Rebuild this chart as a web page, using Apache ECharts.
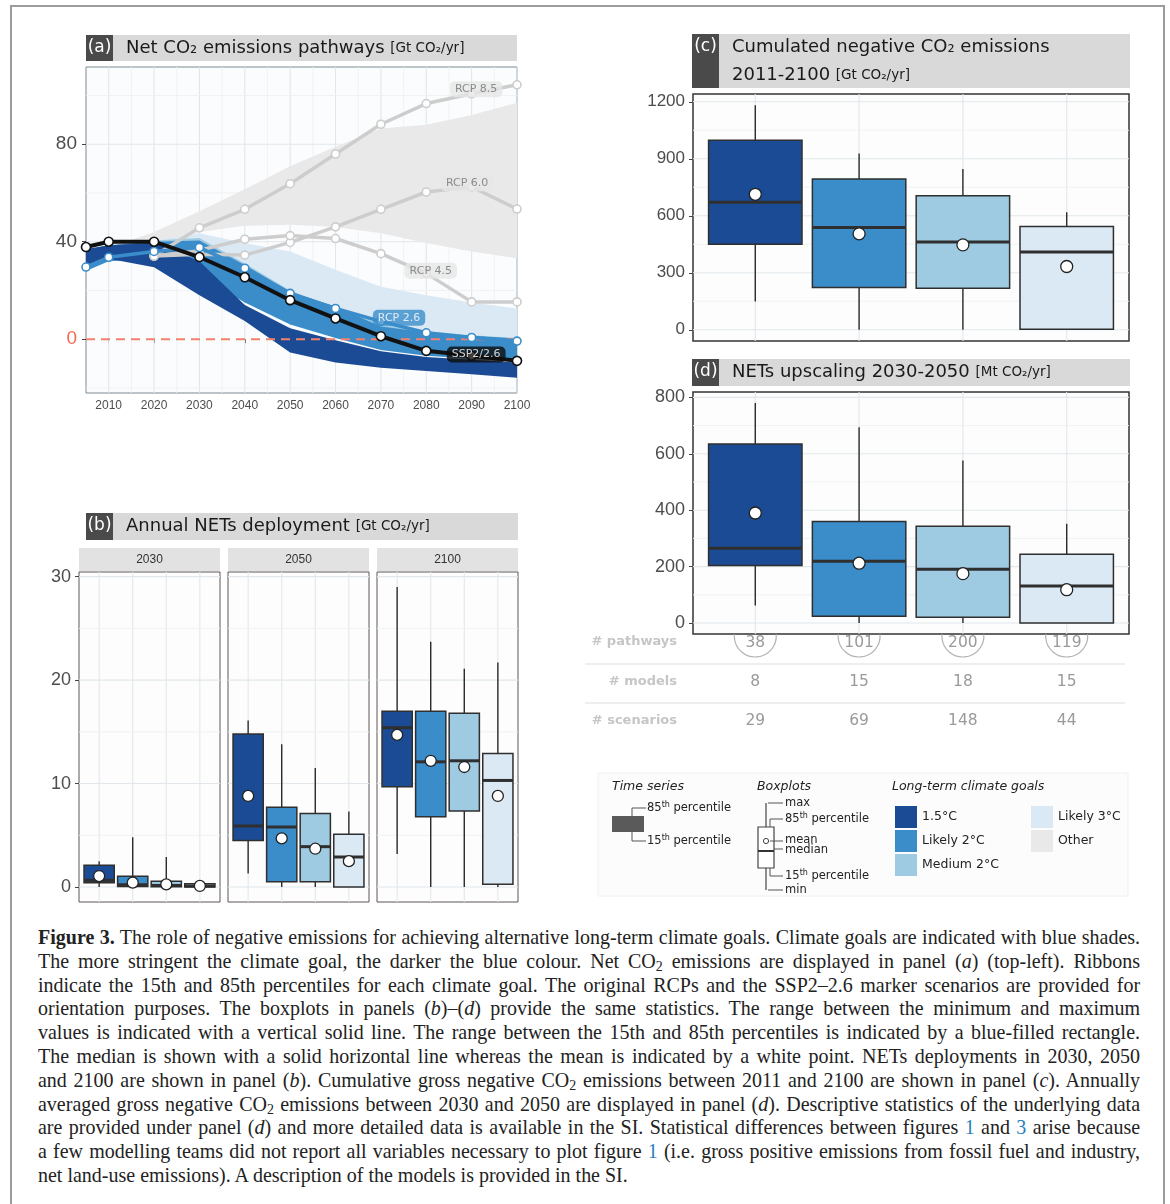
<!DOCTYPE html>
<html>
<head>
<meta charset="utf-8">
<script src="https://cdn.jsdelivr.net/npm/echarts@6.0.0/dist/echarts.min.js"></script>
<style>
  body { margin: 0; background: #fff; }
  #wrap { position: relative; width: 1170px; height: 1204px; overflow: hidden; }
  #frame { position: absolute; left: 10px; top: 5px; width: 1151px; height: 1300px; border: 2px solid #9c9c9c; }
  #chart { position: absolute; left: 0; top: 0; width: 1170px; height: 915px; }
  #caption { position: absolute; left: 38px; top: 926px; font-family: 'Liberation Serif', serif;
             font-size: 21.5px; color: #222; line-height: 23.8px; }
  #caption div { width: 1185px; height: 23.8px; transform: scaleX(0.93); transform-origin: 0 0; text-align: justify; text-align-last: justify; }
  #caption div.last { text-align-last: left; }
  #caption sub { font-size: 15px; line-height: 0; vertical-align: -3px; }
  #caption a { color: #2a7fba; text-decoration: none; }
</style>
</head>
<body>
<div id="wrap">
  <div id="frame"></div>
  <div id="chart"></div>
  <div id="caption">
    <div><b>Figure 3.</b> The role of negative emissions for achieving alternative long-term climate goals. Climate goals are indicated with blue shades.</div>
    <div>The more stringent the climate goal, the darker the blue colour. Net CO<sub>2</sub> emissions are displayed in panel (<i>a</i>) (top-left). Ribbons</div>
    <div>indicate the 15th and 85th percentiles for each climate goal. The original RCPs and the SSP2–2.6 marker scenarios are provided for</div>
    <div>orientation purposes. The boxplots in panels (<i>b</i>)–(<i>d</i>) provide the same statistics. The range between the minimum and maximum</div>
    <div>values is indicated with a vertical solid line. The range between the 15th and 85th percentiles is indicated by a blue-filled rectangle.</div>
    <div>The median is shown with a solid horizontal line whereas the mean is indicated by a white point. NETs deployments in 2030, 2050</div>
    <div>and 2100 are shown in panel (<i>b</i>). Cumulative gross negative CO<sub>2</sub> emissions between 2011 and 2100 are shown in panel (<i>c</i>). Annually</div>
    <div>averaged gross negative CO<sub>2</sub> emissions between 2030 and 2050 are displayed in panel (<i>d</i>). Descriptive statistics of the underlying data</div>
    <div>are provided under panel (<i>d</i>) and more detailed data is available in the SI. Statistical differences between figures <a>1</a> and <a>3</a> arise because</div>
    <div>a few modelling teams did not report all variables necessary to plot figure <a>1</a> (i.e. gross positive emissions from fossil fuel and industry,</div>
    <div class="last">net land-use emissions). A description of the models is provided in the SI.</div>
  </div>
</div>
<script>
// climate goals and colours
const goalNames = ['1.5°C', 'Likely 2°C', 'Medium 2°C', 'Likely 3°C'];
const goalColors = ['#1b4b94', '#3b8dca', '#9ecae2', '#dbe9f5'];
const otherColor = '#e9e9e9';

// panel (a): net CO2 pathways [Gt CO2/yr], ribbons = 15th/85th percentiles
const pathYears = [2005, 2010, 2020, 2030, 2040, 2050, 2060, 2070, 2080, 2090, 2100];
const otherLow = [37, 37, 38, 44, 46.5, 47, 46, 43.5, 39.5, 36, 33.2];
const otherHigh = [37, 37.5, 44, 52.5, 61.5, 71, 79, 86.5, 88, 92, 97];
const likely3Low = [30, 33, 35, 27, 16, 8, 3, 0, -2, -3, -4];
const likely3High = [35.5, 38, 40.5, 43.5, 39.5, 36, 28.5, 21.5, 18, 15, 12.6];
const medium2Low = [30, 33, 34, 27, 17, 8, 3, 0, -3, -4, -5];
const medium2High = [35.5, 37.5, 40.5, 41.5, 31, 20, 13, 7, 3.2, 1.6, 0.5];
const likely2Low = [28, 32, 33, 26, 15, 6, 0.5, -4.5, -6.8, -8, -9.1];
const likely2High = [36.5, 38.5, 40, 40.5, 30.4, 19.5, 13.4, 5.2, 2.8, 1.4, 0.3];
const goal15Low = [30.5, 33, 29.5, 18, 7.5, -5.5, -9.6, -11.7, -13.1, -14.4, -15.8];
const goal15High = [37, 38.5, 39.5, 32, 14, 4.5, -0.5, -5, -7.3, -8.5, -9.6];

const rcpYears = [2020, 2030, 2040, 2050, 2060, 2070, 2080, 2090, 2100];
const rcp85 = [34.1, 45.7, 53.3, 63.8, 76, 88.2, 96.7, 100.7, 104.4];
const rcp60 = [34.1, 34.8, 34.5, 39.7, 46.1, 53.3, 60.4, 62.5, 53.4];
const rcp45 = [34.1, 36.5, 41, 42.5, 41.3, 35.1, 27, 15.3, 15.3];
const rcp26 = [29.6, 33.6, 36, 37.6, 29.1, 18.8, 12.6, 7.3, 2.6, 0.7, -0.8];
const ssp226 = [37.8, 40, 40, 33.7, 25.4, 16, 8.5, 1.2, -4.8, -6.8, -8.9];

// where the scenario name tags sit
const tagNames = ['RCP 8.5', 'RCP 6.0', 'RCP 4.5', 'RCP 2.6', 'SSP2/2.6'];
const tagYears = [2091, 2089, 2081, 2074, 2091];
const tagValues = [102.6, 64, 28.1, 8.8, -6.3];
const tagBg = ['#e6e6e6', '#e6e6e6', '#e6e6e6', '#3b8dca', '#0c0c0c'];
const tagFg = ['#737373', '#737373', '#737373', '#ffffff', '#ffffff'];

// boxplot stats per goal: [min, p15, median, p85, max, mean]
const netsYears = ['2030', '2050', '2100'];
const nets2030 = [[0, 0.42, 0.65, 2.1, 2.5, 1.06], [0, 0.05, 0.22, 1.03, 4.8, 0.42],
                  [0, 0.03, 0.15, 0.55, 2.9, 0.26], [0, 0, 0.1, 0.32, 0.35, 0.1]];
const nets2050 = [[1.3, 4.5, 5.9, 14.8, 16.1, 8.8], [0, 0.5, 5.8, 7.7, 13.8, 4.7],
                  [0, 0.5, 3.9, 7.1, 11.5, 3.7], [0, 0, 2.9, 5.1, 7.3, 2.5]];
const nets2100 = [[3.2, 9.7, 15.4, 17.0, 29.0, 14.7], [0, 6.8, 12.1, 17.0, 23.7, 12.2],
                  [0, 7.35, 12.2, 16.8, 21.1, 11.6], [0, 0.26, 10.3, 12.9, 21.7, 8.8]];
const cumulNeg = [[149, 450, 671, 998, 1182, 713], [0, 222, 538, 794, 928, 505],
                  [0, 219, 462, 706, 846, 447], [0, 3, 410, 543, 618, 333]];
const upscaling = [[62, 204, 265, 635, 780, 390], [0, 24, 219, 360, 694, 212],
                   [0, 20, 191, 343, 576, 175], [0, 0, 131, 244, 352, 118]];

// table under panel (d)
const nPathways = [38, 101, 200, 119];
const nModels = [8, 15, 18, 15];
const nScenarios = [29, 69, 148, 44];

const chart = echarts.init(document.getElementById('chart'));
const SANS = '"Liberation Sans", Arial, sans-serif';
const DEJA = '"DejaVu Sans", sans-serif';
const plain = v => String(v);

function range(a, b, step) {
    const out = [];
    for (let v = a; v <= b + 1e-9; v += step) out.push(v);
    return out;
}

// faint panel grid lines, major and minor
function gridLines(gi, xRef, yRef, vMajor, vMinor, hMajor, hMinor) {
    const data = [];
    vMajor.forEach(v => data.push([0, v, 1]));
    vMinor.forEach(v => data.push([0, v, 0]));
    hMajor.forEach(v => data.push([1, v, 1]));
    hMinor.forEach(v => data.push([1, v, 0]));
    return {
        type: 'custom', xAxisIndex: gi, yAxisIndex: gi, z: 1, silent: true, data: data,
        renderItem: function (params, api) {
            const cs = params.coordSys;
            const v = api.value(1);
            const major = api.value(2) === 1;
            const style = { stroke: major ? '#e1e7eb' : '#eef1f3', lineWidth: major ? 1.1 : 0.9 };
            if (api.value(0) === 1) {
                const y = api.coord([xRef, v])[1];
                return { type: 'line', shape: { x1: cs.x, y1: y, x2: cs.x + cs.width, y2: y }, style: style };
            }
            const x = api.coord([v, yRef])[0];
            return { type: 'line', shape: { x1: x, y1: cs.y, x2: x, y2: cs.y + cs.height }, style: style };
        }
    };
}

// percentile ribbon drawn as one polygon
function ribbon(low, high, color, z) {
    return {
        type: 'custom', xAxisIndex: 0, yAxisIndex: 0, z: z, silent: true,
        data: pathYears.map((yr, i) => [yr, low[i], high[i]]),
        renderItem: function (params, api) {
            if (params.dataIndexInside !== 0) return null;
            const n = params.dataInsideLength;
            const upper = [], lower = [];
            for (let i = 0; i < n; i++) {
                upper.push(api.coord([api.value(0, i), api.value(2, i)]));
                lower.unshift(api.coord([api.value(0, i), api.value(1, i)]));
            }
            return { type: 'polygon', shape: { points: upper.concat(lower) }, style: { fill: color } };
        }
    };
}

function pathLine(years, values, color, width, symSize, z) {
    return {
        type: 'line', xAxisIndex: 0, yAxisIndex: 0, z: z, silent: true,
        data: years.map((y, i) => [y, values[i]]),
        symbol: 'circle', symbolSize: symSize, showSymbol: true,
        lineStyle: { color: color, width: width },
        itemStyle: { color: '#fff', borderColor: color, borderWidth: 1.6 }
    };
}

function boxes(gi, stats, meanR) {
    return {
        type: 'custom', xAxisIndex: gi, yAxisIndex: gi, z: 5, silent: true,
        data: stats.map((s, i) => [i + 1].concat(s)),
        renderItem: function (params, api) {
            const i = params.dataIndex;
            const x = api.value(0);
            const pMin = api.coord([x, api.value(1)]);
            const pLo = api.coord([x, api.value(2)]);
            const pMed = api.coord([x, api.value(3)]);
            const pHi = api.coord([x, api.value(4)]);
            const pMax = api.coord([x, api.value(5)]);
            const pMean = api.coord([x, api.value(6)]);
            const w = api.size([0.9, 0])[0];
            return {
                type: 'group', children: [
                    { type: 'line', shape: { x1: pMin[0], y1: pMin[1], x2: pMax[0], y2: pMax[1] },
                      style: { stroke: '#2b2b2b', lineWidth: 1.4 } },
                    { type: 'rect', shape: { x: pLo[0] - w / 2, y: pHi[1], width: w, height: Math.max(pLo[1] - pHi[1], 1) },
                      style: { fill: goalColors[i], stroke: '#2f2f2f', lineWidth: 1.5 } },
                    { type: 'line', shape: { x1: pMed[0] - w / 2, y1: pMed[1], x2: pMed[0] + w / 2, y2: pMed[1] },
                      style: { stroke: '#2f2f2f', lineWidth: 3 } },
                    { type: 'circle', shape: { cx: pMean[0], cy: pMean[1], r: meanR },
                      style: { fill: '#fff', stroke: '#222', lineWidth: 1.3 } }
                ]
            };
        }
    };
}

function boxY(gi, min, max, ticks, fontSize, showLabels) {
    return {
        type: 'value', gridIndex: gi, min: min, max: max,
        axisLine: { show: false }, splitLine: { show: false },
        axisTick: { show: showLabels, customValues: ticks, length: 4, lineStyle: { color: '#444' } },
        axisLabel: { show: showLabels, customValues: ticks, formatter: plain, fontSize: fontSize, color: '#4d4d4d', fontFamily: SANS, margin: 8 }
    };
}
function boxX(gi) {
    return { type: 'value', gridIndex: gi, min: 0.4, max: 4.6, show: false };
}

const facetLefts = [79, 228, 377];
const decades = range(2010, 2100, 10);
const facetBorder = '#5f5654';

const option = {
    animation: false,
    grid: [
        { left: 86, top: 67, width: 431, height: 326, show: true, backgroundColor: '#fbfcfd', borderColor: '#7d8b91', borderWidth: 1 },
        { left: facetLefts[0], top: 572, width: 141, height: 330, show: true, backgroundColor: '#fdfdfd', borderColor: facetBorder, borderWidth: 1 },
        { left: facetLefts[1], top: 572, width: 141, height: 330, show: true, backgroundColor: '#fdfdfd', borderColor: facetBorder, borderWidth: 1 },
        { left: facetLefts[2], top: 572, width: 141, height: 330, show: true, backgroundColor: '#fdfdfd', borderColor: facetBorder, borderWidth: 1 },
        { left: 693, top: 94, width: 436, height: 247, show: true, backgroundColor: '#fdfdfd', borderColor: '#333', borderWidth: 1.5 },
        { left: 693, top: 392, width: 436, height: 242, show: true, backgroundColor: '#fdfdfd', borderColor: '#333', borderWidth: 1.5 }
    ],
    xAxis: [
        {
            type: 'value', gridIndex: 0, min: 2005, max: 2100,
            axisLine: { show: false }, splitLine: { show: false },
            axisTick: { show: true, customValues: decades, length: 4, lineStyle: { color: '#444' } },
            axisLabel: { customValues: decades, formatter: plain, fontSize: 12, color: '#4d4d4d', fontFamily: SANS, margin: 7 }
        },
        boxX(1), boxX(2), boxX(3), boxX(4), boxX(5)
    ],
    yAxis: [
        {
            type: 'value', gridIndex: 0, min: -22.1, max: 111.7,
            axisLine: { show: false }, splitLine: { show: false },
            axisTick: { show: true, customValues: [0, 40, 80], length: 4, lineStyle: { color: '#444' } },
            axisLabel: {
                customValues: [0, 40, 80], formatter: plain, fontSize: 19, fontFamily: SANS, margin: 9,
                color: function (v) { return Number(v) === 0 ? '#f26b55' : '#4d4d4d'; }
            }
        },
        boxY(1, -1.45, 30.45, [0, 10, 20, 30], 18, true),
        boxY(2, -1.45, 30.45, [0, 10, 20, 30], 18, false),
        boxY(3, -1.45, 30.45, [0, 10, 20, 30], 18, false),
        boxY(4, -59, 1241, [0, 300, 600, 900, 1200], 17, true),
        boxY(5, -39, 819, [0, 200, 400, 600, 800], 18, true)
    ],
    series: [
        gridLines(0, 2050, 0, decades, range(2015, 2095, 10), [40, 80], [-20, 20, 60, 100]),
        gridLines(1, 2, 10, [1, 2, 3, 4], [], [0, 10, 20, 30], [5, 15, 25]),
        gridLines(2, 2, 10, [1, 2, 3, 4], [], [0, 10, 20, 30], [5, 15, 25]),
        gridLines(3, 2, 10, [1, 2, 3, 4], [], [0, 10, 20, 30], [5, 15, 25]),
        gridLines(4, 2, 600, [1, 2, 3, 4], [], [0, 300, 600, 900, 1200], [150, 450, 750, 1050]),
        gridLines(5, 2, 400, [1, 2, 3, 4], [], [0, 200, 400, 600, 800], [100, 300, 500, 700]),

        ribbon(otherLow, otherHigh, otherColor, 2),
        ribbon(likely3Low, likely3High, goalColors[3], 3),
        ribbon(medium2Low, medium2High, goalColors[2], 4),
        ribbon(likely2Low, likely2High, goalColors[1], 5),
        ribbon(goal15Low, goal15High, goalColors[0], 6),
        {
            type: 'line', xAxisIndex: 0, yAxisIndex: 0, z: 7, silent: true, symbol: 'none',
            data: [[2005, 0], [2100, 0]],
            lineStyle: { color: '#f4806d', width: 2, type: [9, 6] }
        },
        pathLine(rcpYears, rcp85, '#cdcdcd', 3.5, 8, 8),
        pathLine(rcpYears, rcp60, '#cdcdcd', 3.5, 8, 8),
        pathLine(rcpYears, rcp45, '#cdcdcd', 3.5, 8, 8),
        pathLine(pathYears, rcp26, '#3b8dca', 3.5, 8, 9),
        pathLine(pathYears, ssp226, '#111111', 4, 9, 10),
        {
            type: 'scatter', xAxisIndex: 0, yAxisIndex: 0, z: 20, silent: true,
            symbolSize: 1, itemStyle: { color: 'rgba(0,0,0,0)' },
            data: tagNames.map((name, i) => ({
                value: [tagYears[i], tagValues[i]],
                label: { backgroundColor: tagBg[i], color: tagFg[i] }
            })),
            label: {
                show: true, position: 'inside', formatter: p => tagNames[p.dataIndex],
                fontSize: 11, fontFamily: DEJA, padding: [3, 5, 2, 5], borderRadius: 5
            }
        },

        boxes(1, nets2030, 5.5),
        boxes(2, nets2050, 5.5),
        boxes(3, nets2100, 5.5),
        boxes(4, cumulNeg, 6),
        boxes(5, upscaling, 6)
    ]
};
chart.setOption(option);

// ---- annotation graphics (titles, strips, table, legend)
const g = [];
function rect(x, y, w, h, fill, stroke, lw) {
    g.push({ type: 'rect', silent: true, shape: { x: x, y: y, width: w, height: h },
             style: { fill: fill, stroke: stroke || null, lineWidth: stroke ? (lw || 1) : 0 } });
}
function text(x, y, str, size, color, opts) {
    opts = opts || {};
    g.push({ type: 'text', silent: true, x: x, y: y, style: {
        text: str, fontSize: size, fontFamily: opts.family || DEJA, fontWeight: opts.weight || 'normal',
        fontStyle: opts.style || 'normal', fill: color, align: opts.align || 'left', textAlign: opts.align || 'left',
        verticalAlign: 'middle', textVerticalAlign: 'middle', rich: opts.rich
    } });
}
function line(points, color, lw) {
    g.push({ type: 'polyline', silent: true, shape: { points: points }, style: { stroke: color, lineWidth: lw || 1, fill: null } });
}

const titleRich = {
    t: { fontSize: 18, fontFamily: DEJA, color: '#1a1a1a' },
    u: { fontSize: 13.5, fontFamily: DEJA, color: '#555' }
};
function titleBar(x, y, w, h, letter, lines) {
    rect(x, y, 27, h, '#4a4a4a');
    rect(x + 27, y, w - 27, h, '#d9d9d9');
    text(x + 13.5, y + 13, letter, 17, '#fff', { align: 'center' });
    lines.forEach((s, k) => text(x + 40, y + 13 + k * 28, s, 18, '#1a1a1a', { rich: titleRich }));
}
titleBar(86, 35, 431, 26, '(a)', ['{t|Net CO₂ emissions pathways} {u|[Gt CO₂/yr]}']);
titleBar(86, 513, 432, 27, '(b)', ['{t|Annual NETs deployment} {u|[Gt CO₂/yr]}']);
titleBar(692, 34, 438, 54, '(c)', ['{t|Cumulated negative CO₂ emissions}', '{t|2011-2100} {u|[Gt CO₂/yr]}']);
titleBar(692, 359, 438, 27, '(d)', ['{t|NETs upscaling 2030-2050} {u|[Mt CO₂/yr]}']);

// facet strips of panel (b)
netsYears.forEach((yr, k) => {
    rect(facetLefts[k], 548, 141, 23, '#e2e2e2');
    text(facetLefts[k] + 70.5, 560, yr, 12, '#333', { align: 'center', family: SANS });
});

// table under panel (d)
const colX = nPathways.map((v, i) => chart.convertToPixel({ xAxisIndex: 5 }, i + 1));
text(677, 642, '# pathways', 13, '#c6c6c6', { align: 'right', weight: 'bold' });
text(677, 682, '# models', 13, '#c6c6c6', { align: 'right', weight: 'bold' });
text(677, 721, '# scenarios', 13, '#c6c6c6', { align: 'right', weight: 'bold' });
line([[585, 664], [1125, 664]], '#e9e9e9', 1.5);
line([[585, 703], [1125, 703]], '#e9e9e9', 1.5);
colX.forEach((x, i) => {
    g.push({ type: 'arc', silent: true, shape: { cx: x, cy: 636, r: 21, startAngle: -0.08, endAngle: Math.PI + 0.08, clockwise: true },
             style: { stroke: '#b3b3b3', lineWidth: 1.2, fill: null } });
    text(x, 643, String(nPathways[i]), 15.5, '#9a9a9a', { align: 'center' });
    text(x, 682, String(nModels[i]), 15.5, '#9a9a9a', { align: 'center' });
    text(x, 721, String(nScenarios[i]), 15.5, '#9a9a9a', { align: 'center' });
});

// legend
rect(598, 773, 530, 123, '#fcfcfc', '#f0f0f0');
const supRich = {
    n: { fontSize: 11.5, fontFamily: DEJA, color: '#222', lineHeight: 14 },
    s: { fontSize: 8, fontFamily: DEJA, color: '#222', verticalAlign: 'top' }
};
text(612, 787, 'Time series', 12.5, '#222', { style: 'italic' });
rect(612, 816, 32, 16, '#5a5a5a');
line([[632, 816], [632, 808], [646, 808]], '#555', 1);
line([[632, 832], [632, 841], [646, 841]], '#555', 1);
text(647, 808, '{n|85}{s|th}{n| percentile}', 11.5, '#222', { rich: supRich });
text(647, 841, '{n|15}{s|th}{n| percentile}', 11.5, '#222', { rich: supRich });

text(757, 787, 'Boxplots', 12.5, '#222', { style: 'italic' });
line([[766, 803], [766, 890]], '#444', 1.2);
rect(758, 827, 16, 41, '#fff', '#444', 1.2);
line([[758, 851], [774, 851]], '#333', 2);
g.push({ type: 'circle', silent: true, shape: { cx: 766, cy: 841, r: 2.6 }, style: { fill: '#fff', stroke: '#444', lineWidth: 1 } });
line([[768, 803], [783, 803]], '#555', 1);
line([[770, 827], [770, 819], [783, 819]], '#555', 1);
line([[770, 841], [783, 841]], '#555', 1);
line([[774, 849], [783, 849]], '#555', 1);
line([[770, 868], [770, 876], [783, 876]], '#555', 1);
line([[768, 890], [783, 890]], '#555', 1);
text(785, 803, 'max', 11.5, '#222');
text(785, 819, '{n|85}{s|th}{n| percentile}', 11.5, '#222', { rich: supRich });
text(785, 840, 'mean', 11.5, '#222');
text(785, 850, 'median', 11.5, '#222');
text(785, 876, '{n|15}{s|th}{n| percentile}', 11.5, '#222', { rich: supRich });
text(785, 890, 'min', 11.5, '#222');

text(892, 787, 'Long-term climate goals', 12.5, '#222', { style: 'italic' });
const legendNames = goalNames.concat(['Other']);
const legendColors = goalColors.concat([otherColor]);
legendNames.forEach((name, k) => {
    const col = k < 3 ? 0 : 1;
    const row = k < 3 ? k : k - 3;
    const sx = col === 0 ? 895 : 1031;
    const sy = 806 + row * 24;
    rect(sx, sy, 22, 22, legendColors[k]);
    text(sx + 27, sy + 11, name, 12.5, '#222');
});

chart.setOption({ graphic: g });
</script>
</body>
</html>
